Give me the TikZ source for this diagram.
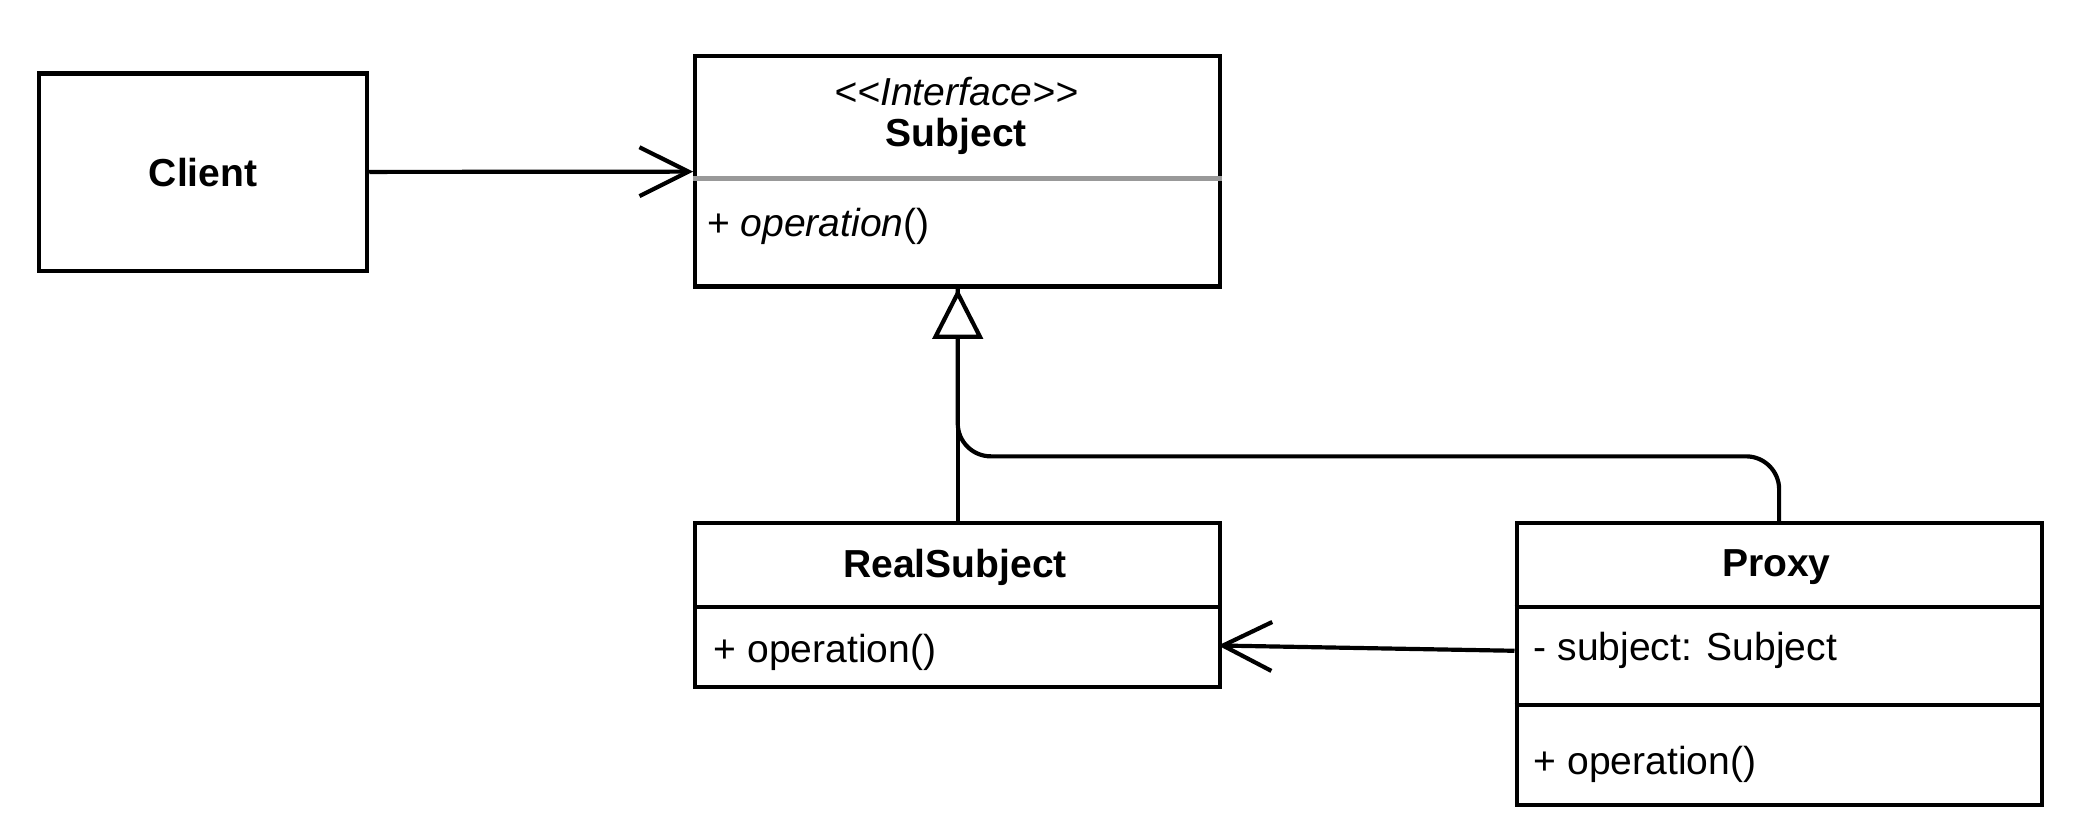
\documentclass[tikz,border=0pt]{standalone}
\usepackage{fontspec}
\setmainfont{Liberation Sans}
\usetikzlibrary{arrows.meta}
\begin{document}
\begin{tikzpicture}[x=0.1mm, y=-0.1mm, line width=0.9pt, font=\fontsize{8.4}{10}\selectfont,
    box/.style = {draw, anchor=north west, inner sep=0, minimum width=39.7mm},
    title/.style = {inner sep=0, font=\fontsize{8.4}{10}\selectfont\bfseries},
    member/.style = {inner sep=0, anchor=west},
    assoc/.style = {-{Straight Barb[length=3.7mm, width=3.7mm]}},
    inherit/.style = {-{Triangle[open, fill=white, length=3.8mm, width=3.8mm]}}]
    \useasboundingbox (0,0) rectangle (1568,634);

    \node[box, minimum width=24.8mm, minimum height=14.9mm, font=\fontsize{8.4}{10}\selectfont\bfseries] (client) at (28,54) {Client};
    \node[box, minimum height=17.4mm] (subject) at (524,41) {};
    \node[box, minimum height=12.4mm] (real) at (524,394) {};
    \node[box, minimum height=21.3mm] (proxy) at (1145,394) {};

    \node[inner sep=0, font=\fontsize{8.4}{10}\selectfont\itshape] (stereo) at (723,69) {{<}{<}Interface{>}{>}};
    \node[title] (subjname) at (723,103) {Subject};
    \node[member] (subjop) at (533,171) {+ \textit{operation}()};
    \node[title] (realname) at (722,429) {RealSubject};
    \node[member] (realop) at (538,493) {+ operation()};
    \node[title] (proxyname) at (1343,429) {Proxy};
    \node[member] (proxyattr) at (1158,492) {- subject: Subject};
    \node[member] (proxyop) at (1158,578) {+ operation()};

    \draw[gray!80] (subject.west |- 0,135) -- (subject.east |- 0,135);
    \draw (real.west |- 0,459) -- (real.east |- 0,459);
    \draw (proxy.west |- 0,459) -- (proxy.east |- 0,459);
    \draw (proxy.west |- 0,533) -- (proxy.east |- 0,533);

    \coordinate (realin) at (921,488);
    \draw[assoc] (client) -- (subject);
    \draw[rounded corners=2.5mm] (proxy.north) -- ++(0,-49) -| (subject.south);
    \draw[inherit] (real.north) -- (subject.south);
    \draw[assoc] (proxyattr -| proxy.west) -- (realin);
\end{tikzpicture}
\end{document}
